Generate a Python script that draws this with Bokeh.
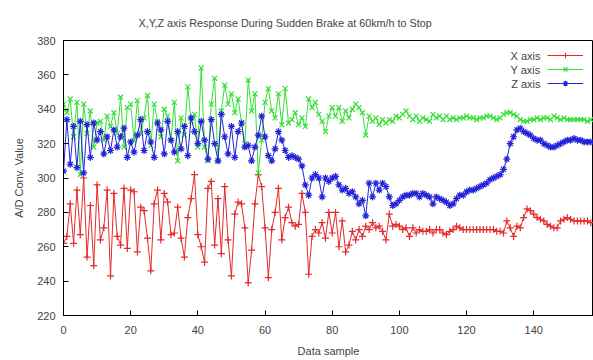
from bokeh.plotting import figure
from bokeh.models import Range1d, FixedTicker, Legend, LegendItem, Label
from bokeh.core.properties import value
from bokeh.embed import file_html
from bokeh.resources import INLINE

title_text = "X,Y,Z axis Response During Sudden Brake at 60km/h to Stop"
x_label = "Data sample"
y_label = "A/D Conv. Value"
series_names = ["X axis", "Y axis", "Z axis"]
x_ticks = [0, 20, 40, 60, 80, 100, 120, 140]
y_ticks = [220, 240, 260, 280, 300, 320, 340, 360, 380]

x_axis_vals = [
    262, 266, 285, 262, 293, 267, 300, 254, 284, 249, 296, 264, 271, 293, 243, 291, 266, 261, 294, 259,
    293, 292, 257, 283, 281, 265, 246, 285, 293, 264, 291, 286, 267, 268, 283, 265, 254, 277, 288, 302,
    267, 260, 251, 294, 298, 261, 288, 256, 295, 264, 243, 279, 286, 285, 271, 239, 258, 285, 302, 295,
    271, 242, 270, 280, 294, 264, 277, 283, 274, 272, 273, 291, 280, 244, 266, 270, 268, 274, 265, 280,
    268, 280, 260, 275, 257, 261, 269, 264, 270, 266, 272, 270, 274, 271, 272, 269, 264, 279, 272, 273,
    272, 270, 271, 266, 271, 268, 270, 269, 269, 270, 268, 270, 270, 268, 267, 269, 270, 272, 271, 270,
    270, 270, 270, 270, 270, 270, 270, 270, 270, 269, 269, 268, 275, 271, 266, 272, 271, 277, 282, 281,
    279, 277, 276, 275, 273, 272, 271, 271, 275, 276, 277, 276, 275, 275, 275, 275, 275, 274,
]
y_axis_vals = [
    343, 338, 346, 324, 344, 302, 343, 326, 339, 318, 332, 333, 322, 336, 330, 338, 326, 347, 318, 341,
    343, 322, 345, 326, 335, 348, 319, 343, 333, 324, 340, 336, 322, 344, 310, 335, 325, 353, 333, 337,
    318, 364, 318, 310, 343, 358, 310, 339, 354, 343, 349, 338, 346, 332, 320, 357, 339, 349, 303, 322,
    344, 352, 339, 335, 349, 331, 352, 332, 334, 338, 331, 335, 330, 346, 341, 344, 337, 333, 327, 336,
    341, 336, 341, 333, 339, 335, 340, 343, 341, 338, 325, 336, 333, 335, 331, 334, 332, 334, 333, 336,
    335, 337, 339, 336, 334, 336, 333, 335, 334, 333, 337, 335, 336, 334, 336, 334, 335, 334, 335, 335,
    336, 335, 335, 334, 335, 335, 336, 336, 335, 334, 335, 337, 338, 338, 337, 336, 334, 333, 333, 334,
    334, 335, 334, 335, 335, 334, 336, 335, 334, 335, 334, 334, 334, 334, 334, 334, 333, 334,
]
z_axis_vals = [
    304, 334, 308, 330, 306, 333, 303, 331, 312, 332, 322, 327, 314, 324, 316, 328, 318, 324, 329, 312,
    321, 315, 325, 334, 316, 327, 321, 312, 332, 328, 314, 333, 322, 315, 327, 317, 330, 313, 335, 327,
    320, 333, 322, 311, 334, 320, 310, 337, 324, 314, 330, 312, 327, 332, 318, 319, 310, 318, 325, 336,
    324, 313, 310, 317, 327, 322, 316, 312, 313, 312, 311, 307, 296, 290, 300, 302, 300, 289, 300, 298,
    300, 301, 296, 293, 294, 291, 292, 289, 285, 287, 278, 297, 289, 297, 293, 297, 295, 289, 284, 285,
    287, 289, 290, 290, 291, 291, 289, 291, 290, 289, 285, 289, 288, 287, 286, 284, 285, 288, 290, 290,
    292, 293, 293, 294, 295, 296, 297, 299, 300, 301, 302, 305, 311, 320, 324, 328, 329, 327, 326, 325,
    323, 322, 322, 320, 319, 318, 318, 319, 320, 321, 322, 322, 323, 322, 322, 321, 321, 321,
]
samples = list(range(len(x_axis_vals)))

FONT = "Liberation Sans"
TXT = "#444444"

p = figure(width=593, height=360, output_backend="svg", toolbar_location=None,
           x_range=Range1d(0, 157.8), y_range=Range1d(220, 380),
           min_border_left=63, min_border_top=40, min_border_right=0, min_border_bottom=45)

p.title.text = title_text
p.title.align = "left"
p.title.offset = 75
p.title.text_font = FONT
p.title.text_font_size = "10.8px"
p.title.text_font_style = "normal"
p.title.text_color = TXT
p.title.standoff = 23

p.outline_line_color = "black"
p.outline_line_width = 1
p.xgrid.visible = False
p.ygrid.visible = False
p.background_fill_color = "white"
p.border_fill_color = "white"

for ax, ticks in ((p.xaxis[0], x_ticks), (p.yaxis[0], y_ticks)):
    ax.ticker = FixedTicker(ticks=ticks)
    ax.major_tick_in = 5
    ax.major_tick_out = 0
    ax.minor_tick_line_color = None
    ax.axis_line_color = "black"
    ax.major_tick_line_color = "black"
    ax.major_label_text_font = FONT
    ax.major_label_text_font_size = "11px"
    ax.major_label_text_color = TXT
    ax.axis_label_text_font = FONT
    ax.axis_label_text_font_size = "11px"
    ax.axis_label_text_font_style = "normal"
    ax.axis_label_text_color = TXT

p.xaxis.axis_label = x_label
p.yaxis.axis_label = y_label
p.xaxis.major_label_standoff = 10
p.xaxis.axis_label_standoff = 8
p.yaxis.major_label_standoff = 8
p.yaxis.axis_label_standoff = 9

colors = ["#e42a2a", "#35e035", "#2323d8"]
markers = ["cross", "x", "asterisk"]
items = []
for name, vals, col, mk in zip(series_names, [x_axis_vals, y_axis_vals, z_axis_vals], colors, markers):
    ln = p.line(samples, vals, line_color=col, line_width=1)
    sc = p.scatter(samples, vals, marker=mk, size=7, line_color=col, fill_color=col, line_width=1.2)
    items.append(LegendItem(label=value(" "), renderers=[ln, sc]))

legend = Legend(items=items, location=(484, 225), orientation="vertical",
                glyph_width=36, glyph_height=14, label_width=1, label_height=14,
                label_standoff=0, spacing=0, padding=0, margin=0,
                label_text_font_size="11px",
                border_line_color=None, background_fill_alpha=0)
p.add_layout(legend, "center")

for i, name in enumerate(series_names):
    p.add_layout(Label(x=477, y=260 - 14 * i, x_units="screen", y_units="screen",
                       text=name, text_align="right", text_baseline="middle",
                       text_font=FONT, text_font_size="11px", text_color=TXT))

open("out.html", "w").write(file_html(p, INLINE))
